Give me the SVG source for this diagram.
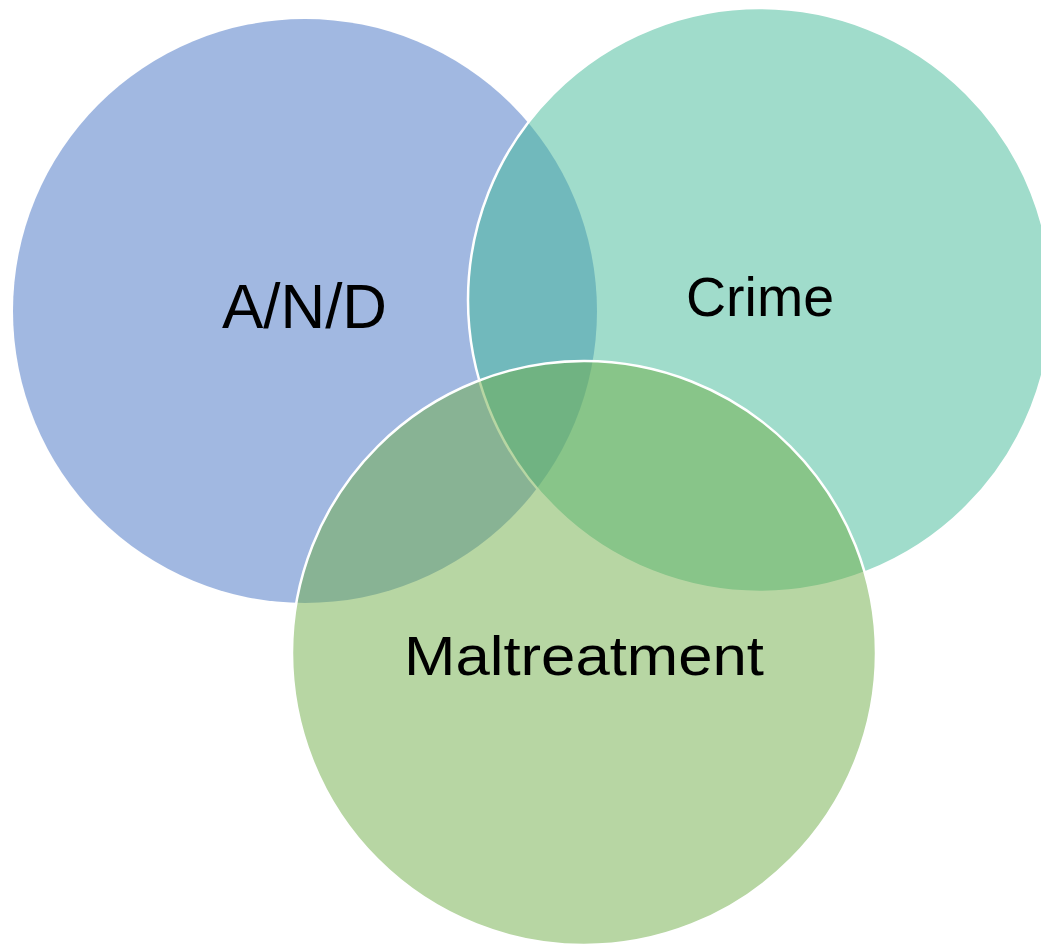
<svg xmlns="http://www.w3.org/2000/svg" width="1041" height="946" viewBox="0 0 1041 946">
  <style>
    .c { fill-opacity: 0.5; }
    .s { stroke: #FFFFFF; stroke-width: 2.5; }
    .t { font-family: "Liberation Sans", Arial, sans-serif; fill: #000000; }
  </style>
  <rect x="0" y="0" width="1041" height="946" fill="#FFFFFF"/>
  <g id="connectors"></g>
  <g id="node-and">
    <circle class="c" cx="305" cy="311" r="292" fill="#4472C4"/>
  </g>
  <g id="node-crime">
    <circle class="c s" cx="760" cy="300" r="292" fill="#42BA97"/>
  </g>
  <g id="node-maltreatment">
    <circle class="c s" cx="584" cy="653" r="292" fill="#70AD47"/>
  </g>
  <g id="labels">
    <text class="t" x="222" y="328" font-size="63" textLength="165" lengthAdjust="spacingAndGlyphs">A/N/D</text>
    <text class="t" x="686" y="316" font-size="56" textLength="148" lengthAdjust="spacingAndGlyphs">Crime</text>
    <text class="t" x="404" y="675" font-size="56" textLength="360" lengthAdjust="spacingAndGlyphs">Maltreatment</text>
  </g>
</svg>
